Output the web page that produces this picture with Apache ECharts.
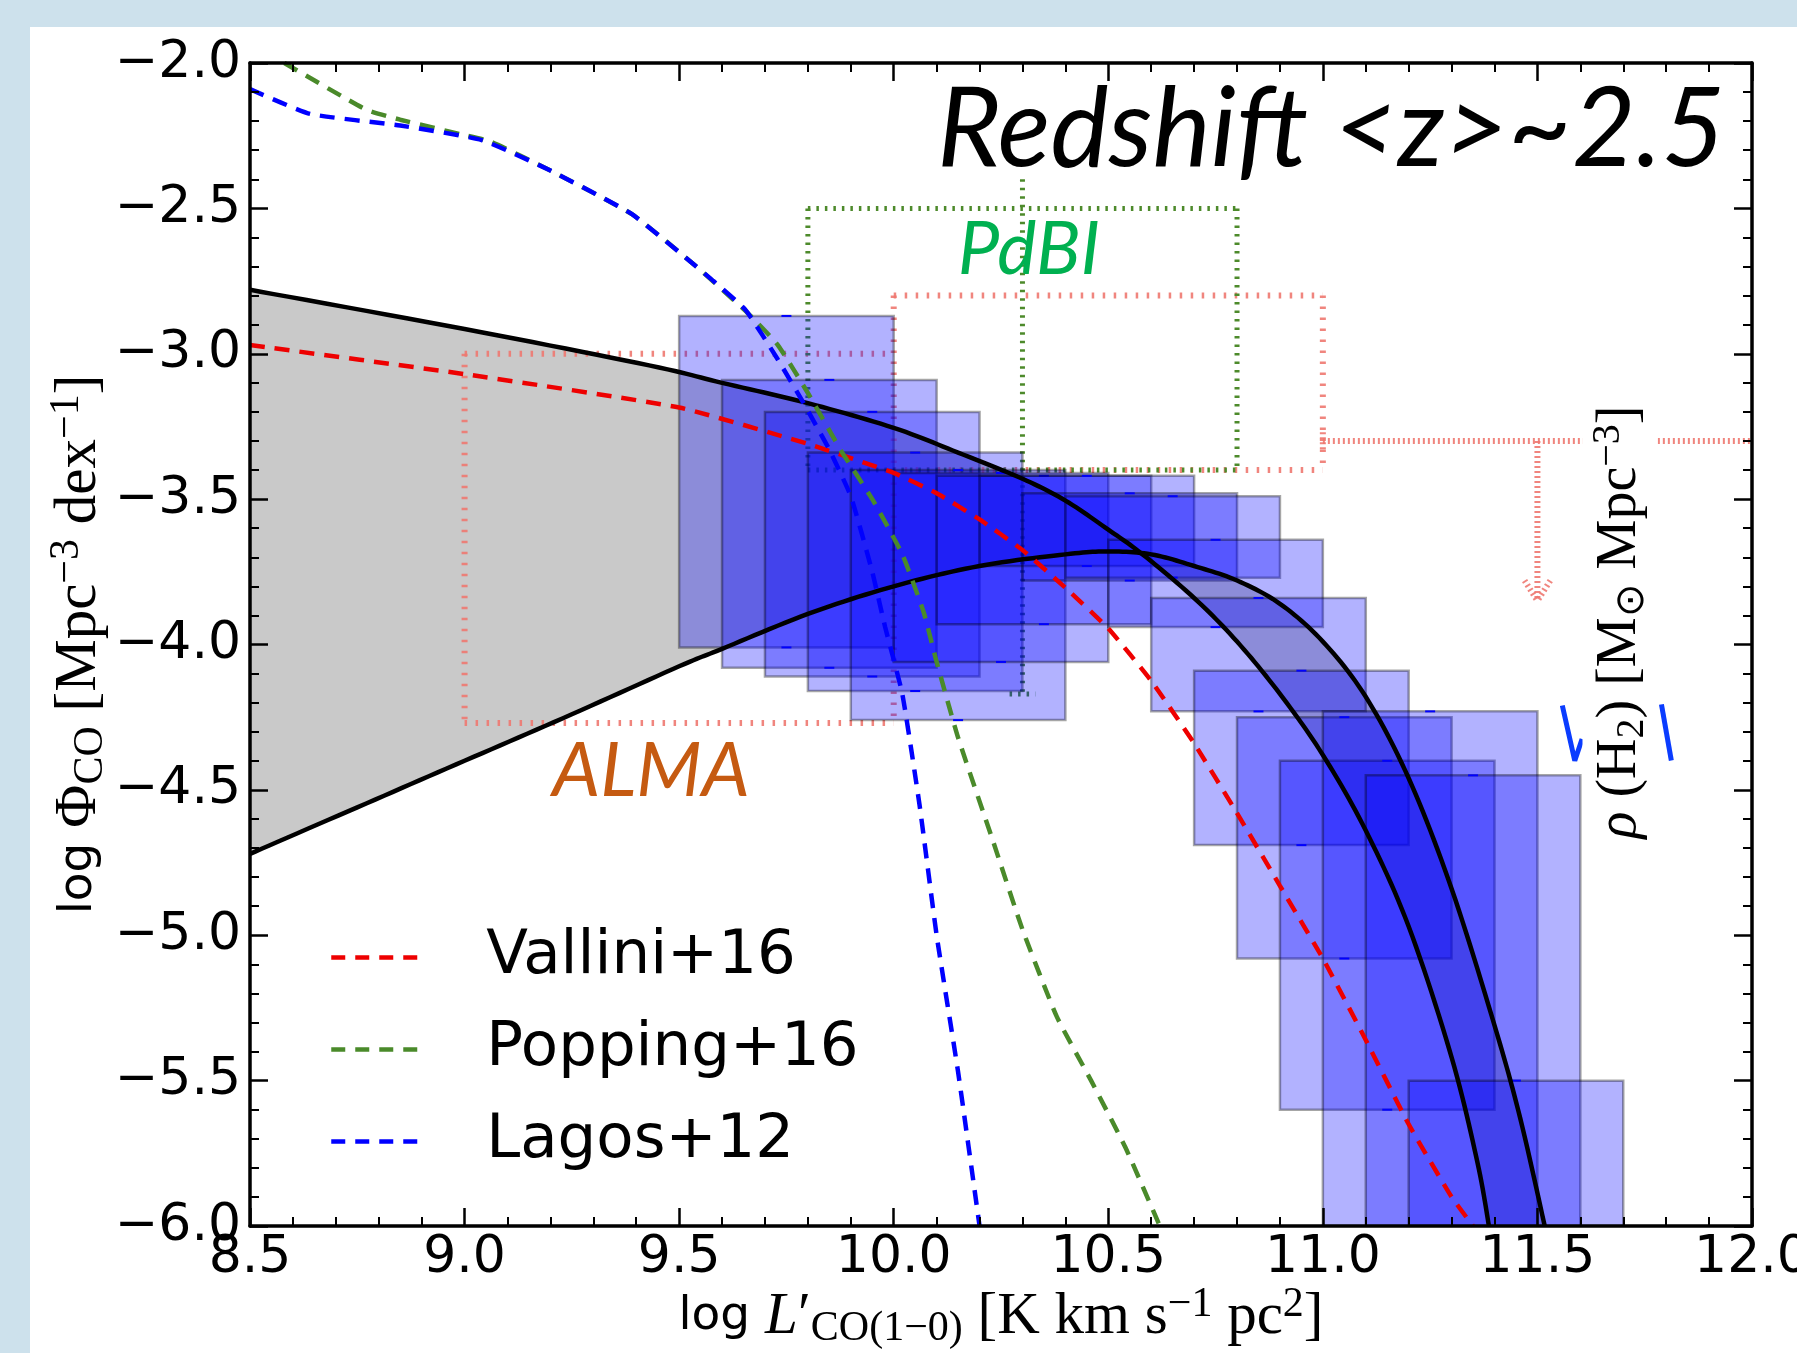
<!DOCTYPE html>
<html>
<head>
<meta charset="utf-8">
<title>CO luminosity function, z~2.5</title>
<script src="https://cdn.jsdelivr.net/npm/echarts@6.0.0/dist/echarts.min.js"></script>
<style>
  html, body { margin: 0; padding: 0; background: #cde1ec; }
  #chart { width: 1797px; height: 1353px; }
</style>
</head>
<body>
<div id="chart"></div>
<script>
// model predictions, [log L'CO, log Phi]
const vallini = [[8.5, -2.97], [9.0, -3.07], [9.5, -3.185], [9.8, -3.31], [10.0, -3.41], [10.1, -3.48],
  [10.2, -3.57], [10.3, -3.675], [10.4, -3.805], [10.5, -3.945], [10.6, -4.125], [10.7, -4.34],
  [10.8, -4.58], [10.9, -4.83], [11.0, -5.08], [11.1, -5.36], [11.2, -5.65], [11.3, -5.9], [11.35, -6.0]]
const popping = [[8.58, -2.0], [8.77, -2.16], [8.85, -2.195], [8.99, -2.245], [9.06, -2.27], [9.2, -2.37],
  [9.39, -2.52], [9.54, -2.7], [9.66, -2.86], [9.73, -2.97], [9.8, -3.135], [9.88, -3.34], [9.95, -3.5],
  [10.02, -3.69], [10.07, -3.89], [10.1, -4.06], [10.15, -4.32], [10.23, -4.67], [10.3, -4.98],
  [10.38, -5.28], [10.46, -5.5], [10.54, -5.73], [10.62, -6.0]]
const lagos = [[8.5, -2.09], [8.64, -2.175], [8.85, -2.215], [9.04, -2.265], [9.2, -2.37], [9.39, -2.52],
  [9.54, -2.7], [9.58, -2.75], [9.655, -2.85], [9.73, -3.02], [9.79, -3.17], [9.85, -3.33], [9.9, -3.49],
  [9.95, -3.75], [9.98, -3.94], [10.02, -4.17], [10.06, -4.55], [10.1, -5.0], [10.15, -5.47], [10.2, -6.0]]

// the two black fits, grey band in between
const fitA = [[8.5, -2.78], [9.0, -2.915], [9.43, -3.04], [9.6, -3.1], [9.8, -3.17], [10.0, -3.255],
  [10.15, -3.34], [10.3, -3.43], [10.4, -3.505], [10.5, -3.605], [10.58, -3.69], [10.7, -3.84],
  [10.8, -3.99], [10.9, -4.17], [11.0, -4.38], [11.1, -4.64], [11.2, -4.97], [11.3, -5.42],
  [11.36, -5.78], [11.387, -6.0]]
const fitB = [[8.5, -4.72], [8.75, -4.56], [9.0, -4.4], [9.25, -4.24], [9.5, -4.075], [9.6, -4.015],
  [9.8, -3.895], [10.0, -3.8], [10.2, -3.73], [10.4, -3.69], [10.5, -3.68], [10.6, -3.69], [10.7, -3.73],
  [10.8, -3.78], [10.9, -3.86], [11.0, -3.99], [11.1, -4.18], [11.2, -4.46], [11.3, -4.84],
  [11.4, -5.31], [11.46, -5.63], [11.517, -6.0]]

// blue boxes (luminosity bin x Phi range)
const boxLeft = [9.5, 9.6, 9.7, 9.8, 9.9, 10.0, 10.1, 10.2, 10.3, 10.4, 10.5, 10.6, 10.7, 10.8, 10.9, 11.0, 11.1, 11.2]
const boxRight = [10.0, 10.1, 10.2, 10.3, 10.4, 10.5, 10.6, 10.7, 10.8, 10.9, 11.0, 11.1, 11.2, 11.3, 11.4, 11.5, 11.6, 11.7]
const boxTop = [-2.87, -3.09, -3.2, -3.34, -3.4, -3.41, -3.42, -3.42, -3.48, -3.49, -3.64, -3.84, -4.09, -4.25, -4.4, -4.23, -4.45, -5.5]
const boxBottom = [-4.01, -4.08, -4.11, -4.16, -4.26, -4.06, -3.93, -3.73, -3.78, -3.77, -3.94, -4.23, -4.69, -5.08, -5.6, -6.3, -6.3, -6.3]

// dotted constraints, segments [x1, y1, x2, y2]
const almaBox = [[9.0, -3.0, 10.0, -3.0], [9.0, -3.0, 9.0, -4.27], [9.0, -4.27, 10.0, -4.27], [10.0, -2.8, 10.0, -4.27],
  [10.0, -2.8, 11.0, -2.8], [11.0, -2.8, 11.0, -3.4], [10.0, -3.4, 11.0, -3.4]]
const almaLimit = [[11.0, -3.3, 12.0, -3.3], [11.5, -3.3, 11.5, -3.85], [11.47, -3.78, 11.5, -3.85],
  [11.53, -3.78, 11.5, -3.85], [11.0, -3.27, 11.0, -3.33]]
const pdbiBox = [[9.8, -2.5, 10.8, -2.5], [9.8, -2.5, 9.8, -3.4], [9.8, -3.4, 10.8, -3.4], [10.8, -2.5, 10.8, -3.4],
  [10.3, -2.4, 10.3, -4.17], [10.27, -4.17, 10.33, -4.17]]

// blue strokes sticking out from behind the rho(H2) label
const blueMarkA = [[11.558, -4.21], [11.587, -4.4], [11.604, -4.325]]
const blueMarkB = [[11.789, -4.206], [11.812, -4.399]]

const serif = 'Liberation Serif'
const sans = 'DejaVu Sans'

// catmull-rom through pixel points so fill edge and black line match
const spline = (pts, steps) => {
  const out = []
  for (let i = 0; i < pts.length - 1; i++) {
    const p0 = pts[i - 1] || pts[i], p1 = pts[i], p2 = pts[i + 1], p3 = pts[i + 2] || pts[i + 1]
    for (let s = 0; s < steps; s++) {
      const t = s / steps, t2 = t * t, t3 = t2 * t
      out.push([0, 1].map(k => 0.5 * (2 * p1[k] + (p2[k] - p0[k]) * t +
        (2 * p0[k] - 5 * p1[k] + 4 * p2[k] - p3[k]) * t2 + (3 * p1[k] - p0[k] - 3 * p2[k] + p3[k]) * t3)))
    }
  }
  out.push(pts[pts.length - 1])
  return out
}

const segmentSeries = (name, segs, color, width, dash, z) => ({
  type: 'custom', name, z, clip: true, silent: true,
  data: segs,
  encode: { x: [0, 2], y: [1, 3] },
  renderItem: (params, api) => {
    const a = api.coord([api.value(0), api.value(1)])
    const b = api.coord([api.value(2), api.value(3)])
    return {
      type: 'line',
      shape: { x1: a[0], y1: a[1], x2: b[0], y2: b[1] },
      style: { stroke: color, lineWidth: width, lineDash: dash }
    }
  }
})

const dashed = (name, data, color) => ({
  name, type: 'line', data, z: 6, symbol: 'none', smooth: 0.15, silent: true,
  lineStyle: { color, width: 4.5, type: [15, 10] },
  itemStyle: { color }
})

const axisCommon = {
  type: 'value', z: 10,
  axisLine: { onZero: false, lineStyle: { color: '#000', width: 3.5 } },
  axisTick: { show: true, inside: true, length: 18, lineStyle: { color: '#000', width: 2.5 } },
  minorTick: { show: true, splitNumber: 5, length: 9, lineStyle: { color: '#000', width: 2 } },
  splitLine: { show: false },
  minorSplitLine: { show: false }
}
const mainText = { fontFamily: serif, fontSize: 59, lineHeight: 66 }
const subText = { fontFamily: serif, fontSize: 42, lineHeight: 36, verticalAlign: 'bottom' }
const supText = { fontFamily: serif, fontSize: 42, lineHeight: 36, verticalAlign: 'top' }

const option = {
  animation: false,
  backgroundColor: '#cde1ec',
  grid: { left: 250, right: 45, top: 63, bottom: 127, outerBoundsMode: 'none' },
  legend: {
    data: ['Vallini+16', 'Popping+16', 'Lagos+12'],
    orient: 'vertical', left: 324, top: 922, itemWidth: 86, itemHeight: 20, itemGap: 31,
    selectedMode: false,
    itemStyle: { opacity: 0 },
    lineStyle: { width: 4.5, type: [14, 10] },
    textStyle: { fontSize: 61, fontFamily: sans, color: '#000', padding: [0, 0, 0, 64] }
  },
  xAxis: [
    Object.assign({}, axisCommon, {
      min: 8.5, max: 12, interval: 0.5, position: 'bottom',
      axisLabel: { margin: 6, fontSize: 52, fontFamily: sans, color: '#000', formatter: v => v.toFixed(1) },
      name: '{a|log }{i|L}{b|′}{sub|CO(1−0)}{b| [K km s}{sup|−1}{b| pc}{sup|2}{b|]}',
      nameLocation: 'middle', nameGap: 58, nameMoveOverlap: false,
      nameTextStyle: {
        color: '#000',
        rich: {
          a: { fontFamily: sans, fontSize: 47, lineHeight: 66 },
          i: Object.assign({}, mainText, { fontStyle: 'italic' }),
          b: mainText, sub: subText, sup: supText
        }
      }
    }),
    Object.assign({}, axisCommon, { min: 8.5, max: 12, interval: 0.5, position: 'top', axisLabel: { show: false } })
  ],
  yAxis: [
    Object.assign({}, axisCommon, {
      min: -6, max: -2, interval: 0.5, position: 'left',
      axisLabel: {
        margin: 9, fontSize: 52, fontFamily: sans, color: '#000',
        formatter: v => (v < 0 ? '−' : '') + Math.abs(v).toFixed(1)
      },
      name: '{a|log }{b|Φ}{sub|CO}{b| [Mpc}{sup|−3}{b| dex}{sup|−1}{b|]}',
      nameLocation: 'middle', nameRotate: 90, nameGap: 138, nameMoveOverlap: false,
      nameTextStyle: {
        color: '#000',
        rich: { a: { fontFamily: sans, fontSize: 47, lineHeight: 66 }, b: mainText, sub: subText, sup: supText }
      }
    }),
    Object.assign({}, axisCommon, { min: -6, max: -2, interval: 0.5, position: 'right', axisLabel: { show: false } })
  ],
  series: [
    {
      // grey band between the two fits
      type: 'custom', name: 'band', z: 1, clip: true, silent: true,
      data: [[10, -4]],
      renderItem: (params, api) => {
        const a = spline(fitA.map(p => api.coord(p)), 12)
        const b = spline(fitB.map(p => api.coord(p)), 12)
        return { type: 'polygon', shape: { points: a.concat(b.reverse()) }, style: { fill: '#c9c9c9' } }
      }
    },
    segmentSeries('ALMA', almaBox, 'rgba(238,120,112,0.9)', 6, [2.5, 8.5], 2),
    segmentSeries('ALMA limit', almaLimit, 'rgba(238,120,112,0.9)', 6, [2, 3], 2),
    segmentSeries('PdBI', pdbiBox, '#4d8a2b', 5, [2.5, 6], 2),
    {
      type: 'custom', name: 'boxes', z: 3, clip: true, silent: true,
      data: boxLeft.map((l, i) => [l, boxRight[i], boxTop[i], boxBottom[i]]),
      encode: { x: [0, 1], y: [2, 3] },
      renderItem: (params, api) => {
        const p1 = api.coord([api.value(0), api.value(2)])
        const p2 = api.coord([api.value(1), api.value(3)])
        const cx = (p1[0] + p2[0]) / 2
        const cap = y => ({ type: 'line', shape: { x1: cx - 5, y1: y, x2: cx + 5, y2: y }, style: { stroke: '#0000ff', lineWidth: 2 } })
        return {
          type: 'group',
          children: [
            {
              type: 'rect',
              shape: { x: p1[0], y: p1[1], width: p2[0] - p1[0], height: p2[1] - p1[1] },
              style: { fill: 'rgba(0,0,255,0.3)', stroke: 'rgba(0,0,0,0.35)', lineWidth: 2.5 }
            },
            cap(p1[1]), cap(p2[1])
          ]
        }
      }
    },
    {
      type: 'custom', name: 'fits', z: 4, clip: true, silent: true,
      data: [[10, -4]],
      renderItem: (params, api) => ({
        type: 'group',
        children: [fitA, fitB].map(f => ({
          type: 'polyline',
          shape: { points: spline(f.map(p => api.coord(p)), 12) },
          style: { stroke: '#000', lineWidth: 4.5, fill: null }
        }))
      })
    },
    dashed('Vallini+16', vallini, '#ee0000'),
    dashed('Popping+16', popping, '#4a8a2a'),
    dashed('Lagos+12', lagos, '#0000ff'),
    { name: 'markA', type: 'line', data: blueMarkA, z: 5, symbol: 'none', silent: true, lineStyle: { color: '#0a3cff', width: 5 } },
    { name: 'markB', type: 'line', data: blueMarkB, z: 5, symbol: 'none', silent: true, lineStyle: { color: '#0a3cff', width: 5 } }
  ],
  graphic: [
    { type: 'rect', z: -1, silent: true, shape: { x: 30, y: 27, width: 1767, height: 1326 }, style: { fill: '#fff' } },
    {
      type: 'text', z: 100, x: 937, y: 131,
      style: { text: 'Redshift <z>~2.5', fontFamily: 'Lato', fontStyle: 'italic', fontSize: 110, fill: '#000', align: 'left', verticalAlign: 'middle' }
    },
    {
      type: 'text', z: 100, x: 1029, y: 250,
      style: { text: 'PdBI', fontFamily: 'Lato', fontStyle: 'italic', fontSize: 74, fill: '#00b050', align: 'center', verticalAlign: 'middle' }
    },
    {
      type: 'text', z: 100, x: 651, y: 771,
      style: { text: 'ALMA', fontFamily: 'Lato', fontStyle: 'italic', fontSize: 76, fill: '#c55a11', align: 'center', verticalAlign: 'middle' }
    },
    {
      type: 'text', z: 100, x: 1620, y: 622, rotation: Math.PI / 2,
      style: {
        text: '{i|ρ}{b| (H}{sub|2}{b|) [M}{sub|⊙}{b| Mpc}{sup|−3}{b|]}',
        fill: '#000', align: 'center', verticalAlign: 'middle',
        backgroundColor: '#fff', padding: [6, 4, 5, 4],
        rich: {
          i: { fontFamily: serif, fontSize: 56, lineHeight: 64, fontStyle: 'italic' },
          b: { fontFamily: serif, fontSize: 56, lineHeight: 64 },
          sub: { fontFamily: serif, fontSize: 40, lineHeight: 34, verticalAlign: 'bottom' },
          sup: { fontFamily: serif, fontSize: 40, lineHeight: 34, verticalAlign: 'top' }
        }
      }
    }
  ]
}

const chart = echarts.init(document.getElementById('chart'))
chart.setOption(option)
</script>
</body>
</html>
